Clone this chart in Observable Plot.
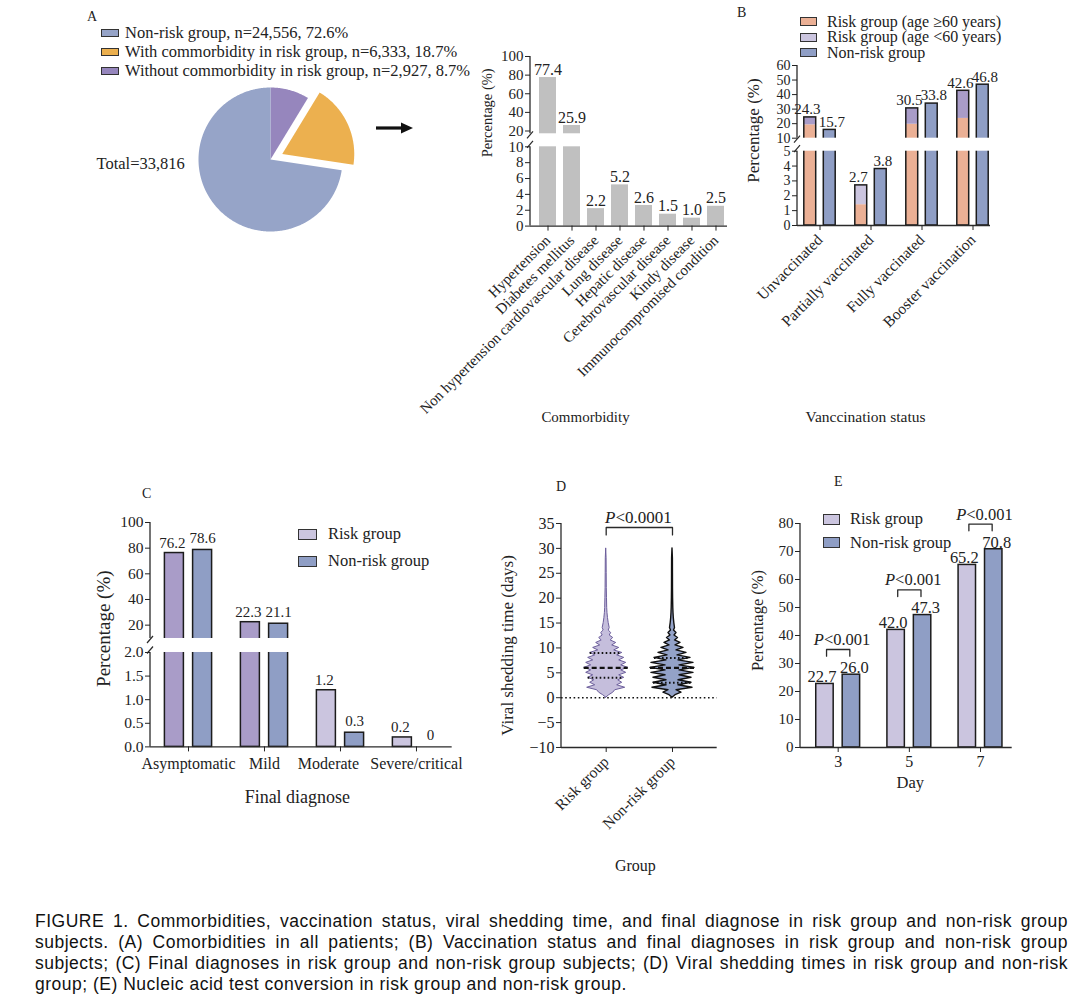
<!DOCTYPE html>
<html><head><meta charset="utf-8">
<script src="https://cdn.jsdelivr.net/npm/d3@7"></script>
<script src="https://cdn.jsdelivr.net/npm/@observablehq/plot@0.6"></script>
<style>
body{margin:0;background:#fff;}
#root{position:relative;width:1080px;height:1007px;overflow:hidden;font-family:'Liberation Serif','Times New Roman',Times,serif;color:#222;}
.lbl{position:absolute;white-space:nowrap;line-height:1;transform:translateY(-50%);}
.cap{position:absolute;left:35px;top:911px;width:1033px;font-family:'Liberation Sans',Arial,sans-serif;font-size:17.5px;letter-spacing:0.5px;color:#111;line-height:21px;}
.cap div{white-space:nowrap;}
</style></head><body><div id="root"></div>
<script>
// ---------------- DATA ----------------
const pieGroups = ["Non-risk group", "With commorbidity in risk group", "Without commorbidity in risk group"];
const pieCounts = [24556, 6333, 2927];
const piePercents = [72.6, 18.7, 8.7];
const pieTotal = 33816;

const commorbidities = ["Hypertension", "Diabetes mellitus", "Non hypertension cardiovascular disease", "Lung disease", "Hepatic disease", "Cerebrovascular disease", "Kindy disease", "Immunocompromised condition"];
const commorbidityPct = [77.4, 25.9, 2.2, 5.2, 2.6, 1.5, 1.0, 2.5];

const vaccSeries = ["Risk group (age \u226560 years)", "Risk group (age <60 years)", "Non-risk group"];
const vaccStatus = ["Unvaccinated", "Partially vaccinated", "Fully vaccinated", "Booster vaccination"];
const riskAge60Pct = [19.2, 1.4, 19.6, 23.6];
const riskTotalPct = [24.3, 2.7, 30.5, 42.6];
const nonRiskVaccPct = [15.7, 3.8, 33.8, 46.8];

const groupSeries = ["Risk group", "Non-risk group"];
const diagnoses = ["Asymptomatic", "Mild", "Moderate", "Severe/critical"];
const riskDiagPct = [76.2, 22.3, 1.2, 0.2];
const nonRiskDiagPct = [78.6, 21.1, 0.3, 0];

const sheddingGroups = ["Risk group", "Non-risk group"];
const sheddingDays = [0, 0.5, 1, 1.5, 2, 2.5, 3, 3.5, 4, 4.5, 5, 5.5, 6, 6.5, 7, 7.5, 8, 8.5, 9, 9.5, 10, 10.5, 11, 11.5, 12, 12.5, 13, 13.5, 14, 15, 16, 17, 18, 20, 22, 25, 28, 30];
const riskDensity = [0, 3, 7, 9, 19, 11, 16, 12, 18, 13, 20, 15, 22, 15, 20, 13, 18, 11, 16, 8, 13, 6, 10, 4.5, 7, 3.5, 5, 2.5, 3.5, 2.5, 1.8, 1.3, 1, 0.8, 0.6, 0.5, 0.4, 0];
const nonRiskDensity = [0, 3, 9, 4, 20, 6, 19, 6, 19, 7, 21, 7, 22, 7, 21, 6, 18, 5, 14, 4, 11, 3, 8, 2.5, 5.5, 2, 4, 1.5, 2.5, 1.8, 1.3, 1, 0.8, 0.6, 0.5, 0.45, 0.4, 0];
const riskQuartiles = [4, 6, 9];      // Q1, median, Q3
const nonRiskQuartiles = [3, 6, 8];
const sheddingP = "<0.0001";

const conversionDays = [3, 5, 7];
const riskConversion = [22.7, 42.0, 65.2];
const nonRiskConversion = [26.0, 47.3, 70.8];
const conversionP = ["<0.001", "<0.001", "<0.001"];

const captionLines = [
  "FIGURE 1. Commorbidities, vaccination status, viral shedding time, and final diagnose in risk group and non-risk group",
  "subjects. (A) Comorbidities in all patients; (B) Vaccination status and final diagnoses in risk group and non-risk group",
  "subjects; (C) Final diagnoses in risk group and non-risk group subjects; (D) Viral shedding times in risk group and non-risk",
  "group; (E) Nucleic acid test conversion in risk group and non-risk group."
];

// ---------------- STYLE ----------------
const root = document.getElementById("root");
const SERIF = "'Liberation Serif','Times New Roman',Times,serif";
const AX = "#2a2a2a";
const PIE_COLORS = ["#96a4c8", "#ecb04f", "#9686bd"];
const GRAY = "#c0c0c0";
const SALMON = "#ebb095";
const LAV_DK = "#a99cc8";
const LAV_LT = "#cbc5df";
const BLUE = "#8f9ec5";
const BAR_STROKE = "#1c1c1c";

function label(txt, x, y, size, extra = {}) {
  const d = document.createElement("div");
  d.className = "lbl";
  d.style.left = x + "px"; d.style.top = y + "px"; d.style.fontSize = size + "px";
  Object.assign(d.style, extra);
  d.textContent = txt;
  root.append(d);
}
function legend(labels, colors, {swX, swW, swH, textX, ys, size, lh}) {
  labels.forEach((lab, i) => {
    const sw = document.createElement("div");
    Object.assign(sw.style, {position: "absolute", left: swX + "px", top: (ys[i] - swH / 2) + "px", width: swW + "px", height: swH + "px", background: colors[i], border: "1.3px solid #333", boxSizing: "border-box"});
    root.append(sw);
    label(lab, textX, ys[i], size, lh ? {lineHeight: lh} : {});
  });
}
function addPlot({frame: [x0, x1, y0, y1], margin: [mt, mr, mb, ml], build}) {
  const left = x0 - ml, top = y0 - mt;
  const width = x1 - x0 + ml + mr, height = y1 - y0 + mt + mb;
  const px = v => v - left, py = v => v - top;
  const svg = Plot.plot({
    width, height, marginTop: mt, marginRight: mr, marginBottom: mb, marginLeft: ml,
    style: {fontFamily: SERIF, fontSize: "15px", color: "#222", background: "none", overflow: "visible", maxWidth: "none"},
    ...build({px, py})
  });
  svg.style.position = "absolute"; svg.style.left = left + "px"; svg.style.top = top + "px";
  root.append(svg);
}
function yLine(lo, hi) {
  return (index, scales, values, dims) => {
    const g = d3.create("svg:g");
    g.append("line").attr("x1", dims.marginLeft).attr("x2", dims.marginLeft)
      .attr("y1", scales.y(lo)).attr("y2", scales.y(hi)).attr("stroke", AX).attr("stroke-width", 1.3);
    return g.node();
  };
}
function gap(bl, bh) {
  return (index, scales, values, dims) => {
    const g = d3.create("svg:g");
    const yt = scales.y(bh), yb = scales.y(bl);
    g.append("rect").attr("x", dims.marginLeft - 12).attr("y", yt)
      .attr("width", dims.width - dims.marginLeft + 12).attr("height", yb - yt).attr("fill", "#fff");
    const x = dims.marginLeft;
    for (const yy of [yt + 1.5, yb - 2]) {
      g.append("line").attr("x1", x - 3).attr("y1", yy + 3.5).attr("x2", x + 3).attr("y2", yy - 3.5)
        .attr("stroke", AX).attr("stroke-width", 1.2);
    }
    return g.node();
  };
}
function pairInsets(step, w, g) {
  const h = step / 2;
  return {
    risk: {insetLeft: h - g / 2 - w, insetRight: h + g / 2},
    non: {insetLeft: h + g / 2, insetRight: h - g / 2 - w},
    off: g / 2 + w / 2
  };
}
const T = d => d;
const yTitle = (t, dx, dy, size) => Plot.text([t], {text: T, frameAnchor: "left", textAnchor: "middle", lineAnchor: "middle", rotate: -90, dx, dy, fontSize: size});
const xTitle = (t, dx, dy, size) => Plot.text([t], {text: T, frameAnchor: "bottom", textAnchor: "middle", lineAnchor: "middle", dx, dy, fontSize: size});

// ---------------- PANEL A: pie ----------------
label("A", 87, 17, 14);
legend(pieGroups.map((g, i) => `${g}, n=${d3.format(",")(pieCounts[i])}, ${piePercents[i]}%`), PIE_COLORS,
  {swX: 101, swW: 18, swH: 8, textX: 125, ys: [33.3, 51.7, 71], size: 16.5});

const pieOrder = [2, 1, 0]; // clockwise from 12 o'clock
const arcs = d3.pie().sort(null).value(i => piePercents[i])(pieOrder);
const EXPLODE = {1: 0.18};
const slices = arcs.map(a => {
  const gi = a.data, off = EXPLODE[gi] || 0, mid = (a.startAngle + a.endAngle) / 2;
  const cx = off * Math.sin(mid), cy = off * Math.cos(mid);
  const pts = [{x: cx, y: cy}];
  const n = Math.ceil((a.endAngle - a.startAngle) / 0.01);
  for (let i = 0; i <= n; i++) {
    const t = a.startAngle + (a.endAngle - a.startAngle) * i / n;
    pts.push({x: cx + Math.sin(t), y: cy + Math.cos(t)});
  }
  return {gi, pts};
});
addPlot({
  frame: [90, 450, 59, 259], margin: [0, 0, 0, 0],
  build: ({px, py}) => ({
    x: {domain: [-2.5, 2.5], range: [90, 450].map(px), axis: null},
    y: {domain: [-100 / 72, 100 / 72], range: [259, 59].map(py), axis: null},
    marks: [
      ...slices.map(s => Plot.line(s.pts, {x: "x", y: "y", fill: PIE_COLORS[s.gi], stroke: "none"})),
      Plot.text([`Total=${d3.format(",")(pieTotal)}`], {text: T, frameAnchor: "left", textAnchor: "start", dx: 6, dy: 4, fontSize: 16.5})
    ]
  })
});
{
  const ns = "http://www.w3.org/2000/svg";
  const s = document.createElementNS(ns, "svg");
  s.setAttribute("width", 50); s.setAttribute("height", 20);
  Object.assign(s.style, {position: "absolute", left: "370px", top: "118px"});
  s.innerHTML = '<path d="M6,10 H34" stroke="#111" stroke-width="3.2"/><path d="M31,4.5 L43,10 L31,15.5 Z" fill="#111"/>';
  root.append(s);
}

// ---------------- PANEL A: commorbidity bars ----------------
const aData = commorbidities.map((c, i) => ({c, v: commorbidityPct[i]}));
addPlot({
  frame: [530, 727, 55.7, 225.3], margin: [20, 12, 200, 60],
  build: ({px, py}) => ({
    x: {type: "band", domain: commorbidities, range: [535.3, 727.3].map(px), paddingInner: 0.3, paddingOuter: 0.15},
    y: {type: "linear", domain: [0, 10, 17, 100], range: [225.3, 146, 133, 55.7].map(py)},
    marks: [
      Plot.barY(aData, {x: "c", y1: () => 0, y2: "v", fill: GRAY}),
      yLine(0, 100),
      Plot.ruleY([0], {stroke: AX, strokeWidth: 1.3}),
      gap(10, 17),
      Plot.axisY({ticks: [0, 2, 4, 6, 8, 10, 20, 40, 60, 80, 100], tickSize: 5, tickPadding: 2, fontSize: 15, label: null}),
      Plot.axisX({tickRotate: -45, tickSize: 5, fontSize: 15, label: null}),
      Plot.text(aData, {x: "c", y: "v", text: d => d.v.toFixed(1), dy: -8, fontSize: 16}),
      yTitle("Percentage (%)", -43, -28.5, 14.5),
      xTitle("Commorbidity", -43.5, 191.4, 15)
    ]
  })
});

// ---------------- PANEL B ----------------
label("B", 737, 13, 14);
legend(vaccSeries, [SALMON, LAV_LT, BLUE], {swX: 800, swW: 17, swH: 9, textX: 827, ys: [21.5, 37, 52.5], size: 16, lh: 0.9});
const bData = vaccStatus.map((s, i) => ({s, old: riskAge60Pct[i], total: riskTotalPct[i], non: nonRiskVaccPct[i]}));
{
  const bRange = [793.5, 997.9];
  const ins = pairInsets((bRange[1] - bRange[0]) / vaccStatus.length, 12, 7.5);
  addPlot({
    frame: [797, 990, 65, 225], margin: [12, 15, 200, 57],
    build: ({px, py}) => ({
      x: {type: "band", domain: vaccStatus, range: bRange.map(px), padding: 0},
      y: {type: "linear", domain: [0, 5, 10, 60], range: [225, 150.7, 137.7, 65].map(py)},
      marks: [
        Plot.barY(bData, {x: "s", y1: () => 0, y2: "old", fill: SALMON, ...ins.risk}),
        Plot.barY(bData.filter(d => d.total > 10), {x: "s", y1: "old", y2: "total", fill: LAV_DK, ...ins.risk}),
        Plot.barY(bData.filter(d => d.total <= 10), {x: "s", y1: "old", y2: "total", fill: LAV_LT, ...ins.risk}),
        Plot.barY(bData, {x: "s", y1: () => 0, y2: "total", fill: "none", stroke: BAR_STROKE, strokeWidth: 1.5, ...ins.risk}),
        Plot.barY(bData, {x: "s", y1: () => 0, y2: "non", fill: BLUE, stroke: BAR_STROKE, strokeWidth: 1.5, ...ins.non}),
        yLine(0, 60),
        Plot.ruleY([0], {stroke: AX, strokeWidth: 1.3}),
        gap(5, 10),
        Plot.axisY({ticks: [0, 1, 2, 3, 4, 5, 10, 20, 30, 40, 50, 60], tickSize: 5, tickPadding: 2, fontSize: 14, label: null}),
        Plot.axisX({tickRotate: -45, tickSize: 5, fontSize: 15.5, label: null}),
        Plot.text(bData, {x: "s", y: "total", text: d => d.total.toFixed(1), dy: -8, dx: -ins.off - 3, fontSize: 15}),
        Plot.text(bData, {x: "s", y: "non", text: d => d.non.toFixed(1), dy: -8, dx: ins.off + 2, fontSize: 15}),
        yTitle("Percentage (%)", -44, -15, 17),
        xTitle("Vanccination status", -28.5, 191.7, 15.5)
      ]
    })
  });
}

// ---------------- PANEL C ----------------
label("C", 142, 494, 14);
legend(groupSeries, [LAV_LT, BLUE], {swX: 298, swW: 19, swH: 11, textX: 328, ys: [534, 561], size: 16.5});
const cData = diagnoses.map((d, i) => ({d, r: riskDiagPct[i], n: nonRiskDiagPct[i]}));
{
  const cRange = [149.2, 454];
  const ins = pairInsets((cRange[1] - cRange[0]) / diagnoses.length, 19.2, 9);
  const nudged = diagnoses[2]; // label drawn shifted left to avoid its neighbour
  addPlot({
    frame: [150, 451.7, 522.3, 746.7], margin: [15, 12, 65, 60],
    build: ({px, py}) => ({
      x: {type: "band", domain: diagnoses, range: cRange.map(px), padding: 0},
      y: {type: "linear", domain: [0, 2, 9.6, 100], range: [746.7, 652.3, 638.3, 522.3].map(py)},
      marks: [
        Plot.barY(cData.filter(d => d.r > 9.6), {x: "d", y1: () => 0, y2: "r", fill: LAV_DK, stroke: BAR_STROKE, strokeWidth: 1.5, ...ins.risk}),
        Plot.barY(cData.filter(d => d.r <= 9.6), {x: "d", y1: () => 0, y2: "r", fill: LAV_LT, stroke: BAR_STROKE, strokeWidth: 1.5, ...ins.risk}),
        Plot.barY(cData.filter(d => d.n > 0), {x: "d", y1: () => 0, y2: "n", fill: BLUE, stroke: BAR_STROKE, strokeWidth: 1.5, ...ins.non}),
        yLine(0, 100),
        Plot.ruleY([0], {stroke: AX, strokeWidth: 1.3}),
        gap(2, 9.6),
        Plot.axisY({ticks: [0, 0.5, 1, 1.5, 2, 20, 40, 60, 80, 100], tickFormat: d => d <= 2 ? d.toFixed(1) : String(d), tickSize: 5, tickPadding: 2, fontSize: 15.5, label: null}),
        Plot.axisX({tickSize: 5, tickPadding: 6, fontSize: 16, label: null, tickFormat: d => d === nudged ? "" : d}),
        Plot.axisX({ticks: [nudged], tickSize: 0, tickPadding: 11, fontSize: 16, label: null, dx: -12}),
        Plot.text(cData, {x: "d", y: "r", text: d => d.r.toFixed(1), dy: -10, dx: -ins.off - 2, fontSize: 15}),
        Plot.text(cData, {x: "d", y: "n", text: d => d.n === 0 ? "0" : d.n.toFixed(1), dy: -12, dx: ins.off, fontSize: 15}),
        yTitle("Percentage (%)", -47, -6, 19),
        xTitle("Final diagnose", -4, 50, 18)
      ]
    })
  });
}

// ---------------- PANEL D ----------------
label("D", 556, 487, 14);
{
  const maxD = d3.max([...riskDensity, ...nonRiskDensity]);
  const k = 0.332 / maxD; // half-width in group units
  const violins = [
    {pos: 1, dens: riskDensity, q: riskQuartiles, fill: "#c5bedc", stroke: "#6b5d9b", sw: 1},
    {pos: 2, dens: nonRiskDensity, q: nonRiskQuartiles, fill: "#93a2c8", stroke: "#111", sw: 1.4}
  ];
  const qRows = violins.flatMap(v => v.q.map((q, j) => ({pos: v.pos, q, j, w: v.dens[sheddingDays.indexOf(q)] * k})));
  const maxDay = d3.max(sheddingDays);
  const bTop = maxDay + 4.2, bLeg = bTop - 1.5;
  const bracket = [{x: 1, y: bLeg}, {x: 1, y: bTop}, {x: 2, y: bTop}, {x: 2, y: bLeg}];
  addPlot({
    frame: [561, 716.7, 522.7, 746.7], margin: [50, 15, 135, 70],
    build: ({px, py}) => ({
      x: {domain: [0.326, 2.674], range: [561, 716.7].map(px)},
      y: {domain: [-10, 35], range: [746.7, 522.7].map(py)},
      marks: [
        ...violins.map(v => Plot.areaX(sheddingDays.map((d, i) => ({day: d, w: v.dens[i] * k})),
          {y: "day", x1: d => v.pos - d.w, x2: d => v.pos + d.w, fill: v.fill, stroke: v.stroke, strokeWidth: v.sw})),
        Plot.ruleY(qRows.filter(d => d.j === 1), {y: "q", x1: d => d.pos - d.w, x2: d => d.pos + d.w, stroke: "#111", strokeWidth: 2.2, strokeDasharray: "5,3"}),
        Plot.ruleY(qRows.filter(d => d.j !== 1), {y: "q", x1: d => d.pos - d.w, x2: d => d.pos + d.w, stroke: "#111", strokeWidth: 2, strokeDasharray: "1.6,2.4"}),
        Plot.ruleY([0], {stroke: "#111", strokeWidth: 1.6, strokeDasharray: "1.6,2.6"}),
        yLine(-10, 35),
        Plot.ruleY([-10], {stroke: AX, strokeWidth: 1.3}),
        Plot.line(bracket, {x: "x", y: "y", stroke: AX, strokeWidth: 1.3}),
        Plot.text(["P"], {text: T, x: () => 1.14, y: () => bTop + 2, textAnchor: "end", fontStyle: "italic", fontSize: 17}),
        Plot.text([sheddingP], {text: T, x: () => 1.14, y: () => bTop + 2, textAnchor: "start", fontSize: 17}),
        Plot.axisY({ticks: d3.range(-10, 36, 5), tickSize: 5, tickPadding: 2, fontSize: 16, label: null}),
        Plot.axisX({ticks: [1, 2], tickFormat: d => sheddingGroups[d - 1], tickRotate: -45, tickSize: 5, fontSize: 15.5, label: null}),
        yTitle("Viral shedding time (days)", -54, 10, 17),
        xTitle("Group", -4, 118, 16)
      ]
    })
  });
}

// ---------------- PANEL E ----------------
label("E", 834, 482, 14);
legend(groupSeries, [LAV_LT, BLUE], {swX: 823, swW: 17, swH: 11, textX: 850, ys: [519.3, 542.7], size: 16.5});
{
  const BW = 0.49, BG = 0.253, BH = 0.327, PS = 0.4;
  const eData = conversionDays.map((d, i) => ({d, r: riskConversion[i], n: nonRiskConversion[i], p: conversionP[i]}));
  const brackets = eData.flatMap(e => {
    const top = Math.max(e.r, e.n) + 9, leg = top - 2.4;
    return [{day: e.d, x: e.d - BH, y: leg}, {day: e.d, x: e.d - BH, y: top}, {day: e.d, x: e.d + BH, y: top}, {day: e.d, x: e.d + BH, y: leg}];
  });
  const pTop = e => Math.max(e.r, e.n) + 12.5;
  addPlot({
    frame: [800, 1011.7, 522.7, 746.7], margin: [50, 15, 50, 60],
    build: ({px, py}) => ({
      x: {domain: [1.941, 7.89], range: [800, 1011.7].map(px)},
      y: {domain: [0, 80], range: [746.7, 522.7].map(py)},
      marks: [
        Plot.rect(eData, {x1: e => e.d - BG / 2 - BW, x2: e => e.d - BG / 2, y1: () => 0, y2: "r", fill: LAV_LT, stroke: BAR_STROKE, strokeWidth: 1.5}),
        Plot.rect(eData, {x1: e => e.d + BG / 2, x2: e => e.d + BG / 2 + BW, y1: () => 0, y2: "n", fill: BLUE, stroke: BAR_STROKE, strokeWidth: 1.5}),
        yLine(0, 80),
        Plot.ruleY([0], {stroke: AX, strokeWidth: 1.3}),
        Plot.line(brackets, {x: "x", y: "y", z: "day", stroke: AX, strokeWidth: 1.3}),
        Plot.text(eData, {x: e => e.d - PS, y: pTop, text: () => "P", textAnchor: "end", fontStyle: "italic", fontSize: 16.5}),
        Plot.text(eData, {x: e => e.d - PS, y: pTop, text: "p", textAnchor: "start", fontSize: 16.5}),
        Plot.text(eData, {x: e => e.d - BG / 2 - BW / 2, y: "r", text: e => e.r.toFixed(1), dy: -7, dx: -3, fontSize: 16.5}),
        Plot.text(eData, {x: e => e.d + BG / 2 + BW / 2, y: "n", text: e => e.n.toFixed(1), dy: -7, dx: 3, fontSize: 16.5}),
        Plot.axisY({ticks: d3.range(0, 81, 10), tickSize: 5, tickPadding: 2, fontSize: 15, label: null}),
        Plot.axisX({ticks: conversionDays, tickFormat: d => String(d), tickSize: 5, tickPadding: 3, fontSize: 16, label: null}),
        yTitle("Percentage (%)", -43, -15, 16.5),
        xTitle("Day", 4, 35, 16.5)
      ]
    })
  });
}

// ---------------- CAPTION ----------------
{
  const cap = document.createElement("div");
  cap.className = "cap";
  root.append(cap);
  const W = 1033;
  captionLines.forEach((t, i) => {
    const d = document.createElement("div");
    const span = document.createElement("span");
    span.textContent = t;
    d.append(span);
    cap.append(d);
    if (i < captionLines.length - 1) {
      const w = span.getBoundingClientRect().width;
      const spaces = (t.match(/ /g) || []).length;
      d.style.wordSpacing = ((W - w) / spaces) + "px";
    }
  });
}
</script></body></html>
